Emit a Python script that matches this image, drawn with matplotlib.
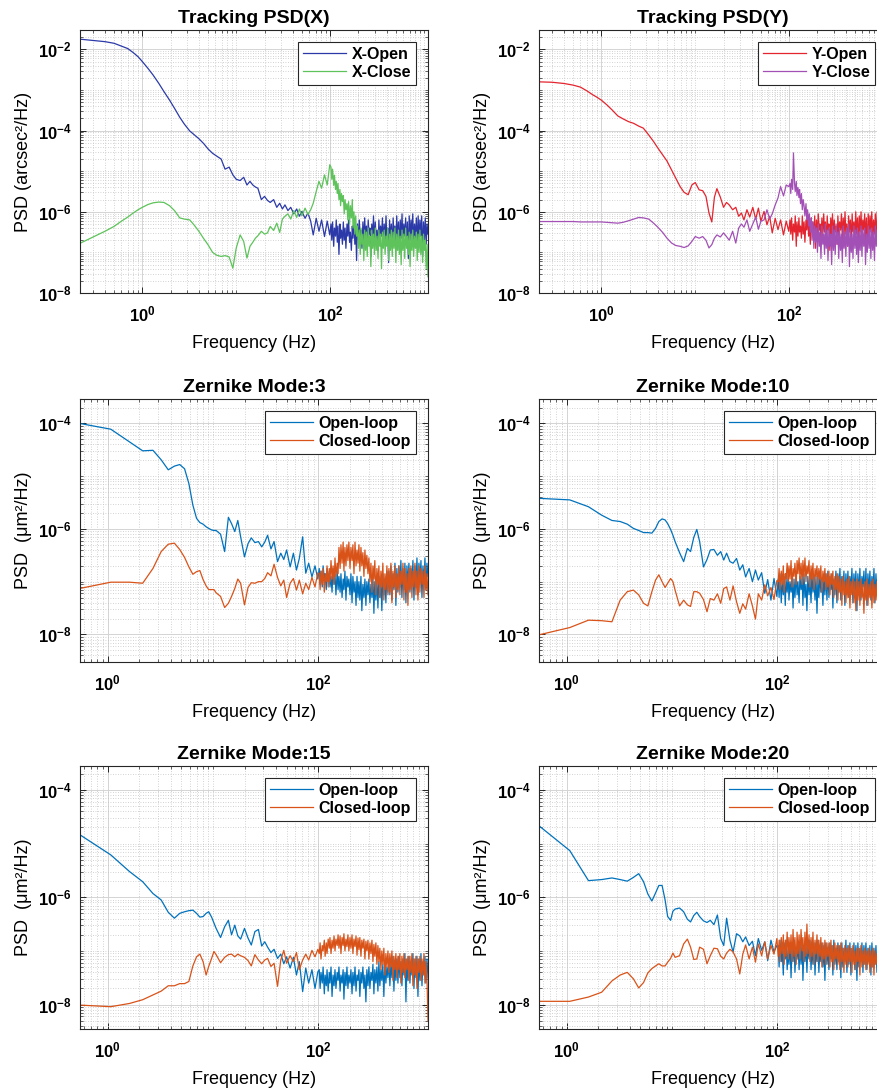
import numpy as np
import matplotlib
matplotlib.use("Agg")
import matplotlib.pyplot as plt
from matplotlib.ticker import LogLocator, NullFormatter

plt.rcParams['font.family'] = ['Liberation Sans', 'DejaVu Sans']
plt.rcParams['mathtext.fontset'] = 'custom'
plt.rcParams['mathtext.rm'] = 'Liberation Sans:bold'
plt.rcParams['mathtext.it'] = 'Liberation Sans:bold'
plt.rcParams['mathtext.bf'] = 'Liberation Sans:bold'
plt.rcParams['mathtext.sf'] = 'Liberation Sans:bold'

# ---------------- data (PSD stored as log10 exponent) ----------------
freq_high = [102, 104, 106, 109, 111, 114, 116, 119, 121, 124,
             127, 129, 132, 135, 138, 141, 144, 147, 151, 154,
             157, 161, 164, 168, 172, 175, 179, 183, 187, 191,
             195, 200, 204, 209, 213, 218, 223, 228, 233, 238,
             243, 248, 254, 259, 265, 271, 277, 283, 289, 296,
             302, 309, 316, 323, 330, 337, 344, 352, 360, 368,
             376, 384, 393, 401, 410, 419, 429, 438, 448, 458,
             468, 478, 489, 500, 511, 522, 534, 545, 557, 570,
             582, 595, 608, 622, 636, 650, 664, 679, 694, 709,
             725, 741, 757, 774, 791, 809, 827, 845, 864, 883,
             902, 922, 943, 964, 985, 1007, 1029, 1052, 1075, 1100]

freq_track = [0.22, 0.3, 0.4, 0.5, 0.6, 0.7, 0.8, 0.9, 1.0, 1.15,
              1.3, 1.5, 1.7, 1.95, 2.2, 2.5, 2.8, 3.2, 3.6, 4.0,
              4.5, 5.0, 5.6, 6.2, 6.9, 7.6, 8.4, 9.2, 10, 11,
              12, 13, 14, 15, 16, 17, 18.5, 20, 21.5, 23,
              25, 27, 29, 31, 33, 35.5, 38, 41, 44, 47,
              50, 54, 58, 62, 66, 71, 76, 81, 87, 93,
              99] + freq_high

freq_zern = [0.54, 1.07, 1.61, 2.15, 2.69, 3.22, 3.76, 4.3, 4.83, 5.37,
             5.9, 6.44, 6.98, 7.5, 8.05, 8.6, 9.1, 9.7, 10.2, 10.7,
             11.8, 12.9, 14, 15, 16.1, 17.2, 18.3, 19.9, 21.5, 23.1,
             25, 27, 29, 31, 33, 35.5, 38, 41, 44, 47,
             50, 54, 58, 62, 66, 71, 76, 81, 87, 93,
             99] + freq_high

x_open_exp = [-1.75, -1.78, -1.81, -1.85, -1.92, -1.98, -2.08, -2.18, -2.30, -2.47,
              -2.63, -2.84, -3.04, -3.25, -3.45, -3.67, -3.84, -4.01, -4.11, -4.20,
              -4.32, -4.45, -4.56, -4.63, -4.70, -4.95, -4.90, -5.09, -5.20, -5.23,
              -5.15, -5.34, -5.25, -5.34, -5.39, -5.42, -5.70, -5.62, -5.72, -5.77,
              -5.70, -5.89, -5.79, -5.93, -5.83, -5.97, -5.89, -6.05, -5.93, -6.11,
              -5.99, -6.16, -6.03, -6.23, -6.57, -6.16, -6.48, -6.20, -6.61, -6.23,
              -6.57,
              -6.30, -6.70, -6.25, -6.85, -6.40, -6.60, -6.20, -6.75, -6.35, -7.05,
              -6.30, -6.65, -6.45, -6.80, -6.25, -6.70, -6.40, -6.90, -6.30, -6.60,
              -6.20, -6.75, -6.50, -6.95, -6.35, -6.65, -6.15, -6.80, -6.40, -7.20,
              -6.30, -6.70, -6.20, -6.60, -6.45, -6.90, -6.25, -6.75, -6.15, -6.65,
              -6.35, -6.85, -6.20, -6.55, -6.40, -7.10, -6.30, -6.70, -6.10, -6.80,
              -6.25, -6.65, -6.45, -6.95, -6.20, -6.70, -6.35, -6.60, -6.15, -6.85,
              -6.30, -6.75, -6.10, -6.65, -6.40, -7.25, -6.20, -6.70, -6.30, -6.90,
              -6.15, -6.60, -6.35, -6.80, -6.10, -6.70, -6.25, -6.95, -6.20, -6.65,
              -6.05, -6.75, -6.30, -6.60, -6.15, -6.85, -6.25, -7.15, -6.10, -6.70,
              -6.20, -6.60, -6.05, -6.80, -6.30, -6.65, -6.15, -6.90, -6.10, -6.75,
              -6.20, -6.60, -6.10, -7.10, -6.25, -6.70, -6.15, -6.80, -6.30, -6.55]

x_close_exp = [-6.77, -6.62, -6.48, -6.36, -6.23, -6.13, -6.03, -5.95, -5.89, -5.82,
               -5.78, -5.76, -5.77, -5.85, -5.97, -6.15, -6.18, -6.20, -6.34, -6.48,
               -6.66, -6.81, -7.00, -7.07, -7.10, -7.08, -7.11, -7.39, -6.89, -6.57,
               -6.73, -7.14, -6.85, -6.75, -6.65, -6.59, -6.48, -6.55, -6.52, -6.36,
               -6.46, -6.28, -6.51, -6.18, -6.11, -6.05, -6.18, -5.97, -6.14, -5.93,
               -6.10, -5.91, -6.07, -5.95, -5.79, -5.50, -5.25, -5.42, -5.09, -5.34,
               -4.84,
               -4.90, -5.20, -4.95, -5.35, -5.10, -5.45, -5.25, -5.55, -5.30, -5.70,
               -5.45, -5.85, -5.55, -5.75, -5.60, -6.05, -5.70, -5.95, -5.80, -6.20,
               -5.75, -6.30, -5.85, -6.15, -5.70, -6.40, -6.00, -6.55, -6.10, -6.60,
               -6.35, -6.90, -6.45, -7.05, -6.40, -6.80, -6.55, -7.20, -6.45, -6.95,
               -6.50, -7.10, -6.40, -6.85, -6.60, -7.35, -6.45, -6.90, -6.55, -7.05,
               -6.40, -6.95, -6.60, -7.15, -6.45, -6.85, -6.55, -7.40, -6.50, -6.90,
               -6.45, -7.05, -6.60, -6.85, -6.40, -7.20, -6.55, -6.95, -6.45, -7.10,
               -6.50, -6.90, -6.40, -7.25, -6.55, -6.95, -6.45, -7.05, -6.60, -7.30,
               -6.45, -6.95, -6.55, -7.15, -6.40, -6.90, -6.60, -7.05, -6.50, -7.35,
               -6.55, -6.95, -6.45, -7.10, -6.60, -6.90, -6.50, -7.20, -6.55, -7.00,
               -6.45, -7.05, -6.60, -7.25, -6.55, -6.95, -6.70, -7.40, -6.80, -7.60]

y_open_exp = [-2.80, -2.81, -2.84, -2.88, -2.93, -3.02, -3.11, -3.18, -3.25, -3.37,
              -3.49, -3.64, -3.71, -3.78, -3.82, -3.89, -3.94, -4.11, -4.27, -4.43,
              -4.60, -4.75, -4.97, -5.17, -5.38, -5.52, -5.58, -5.34, -5.28, -5.46,
              -5.48, -5.62, -6.03, -6.25, -5.64, -5.43, -5.64, -5.89, -5.77, -5.83,
              -5.95, -5.89, -6.11, -6.03, -6.20, -5.95, -6.13, -5.89, -6.18, -5.91,
              -6.23, -5.99, -6.32, -6.11, -6.52, -6.16, -6.44, -6.20, -6.57, -6.23,
              -6.48,
              -6.20, -6.55, -6.15, -6.70, -6.30, -6.50, -6.10, -6.85, -6.25, -6.60,
              -6.15, -6.50, -6.35, -6.65, -6.10, -6.55, -6.25, -6.75, -6.20, -6.45,
              -6.05, -6.60, -6.30, -6.80, -6.15, -6.50, -6.25, -6.65, -6.10, -6.90,
              -6.20, -6.55, -6.05, -6.45, -6.30, -6.70, -6.15, -6.60, -6.05, -6.50,
              -6.25, -6.75, -6.10, -6.45, -6.30, -6.95, -6.15, -6.55, -6.05, -6.65,
              -6.20, -6.50, -6.35, -6.80, -6.10, -6.60, -6.25, -6.45, -6.05, -6.70,
              -6.15, -6.60, -6.00, -6.55, -6.30, -6.85, -6.10, -6.50, -6.20, -6.75,
              -6.05, -6.50, -6.25, -6.65, -6.00, -6.55, -6.15, -6.80, -6.10, -6.50,
              -6.00, -6.60, -6.20, -6.45, -6.05, -6.70, -6.15, -6.95, -6.05, -6.55,
              -6.10, -6.50, -6.00, -6.65, -6.20, -6.55, -6.05, -6.75, -6.00, -6.60,
              -6.10, -6.45, -6.05, -6.85, -6.15, -6.55, -6.05, -6.65, -6.20, -6.45]

y_close_exp = [-6.24, -6.24, -6.24, -6.24, -6.25, -6.25, -6.25, -6.25, -6.25, -6.26,
               -6.27, -6.28, -6.26, -6.22, -6.18, -6.14, -6.15, -6.18, -6.28, -6.38,
               -6.51, -6.65, -6.77, -6.83, -6.85, -6.88, -6.84, -6.73, -6.61, -6.65,
               -6.61, -6.70, -6.89, -6.81, -6.65, -6.57, -6.62, -6.52, -6.61, -6.70,
               -6.48, -6.77, -6.40, -6.30, -6.38, -6.20, -6.48, -6.30, -6.13, -6.43,
               -6.23, -6.20, -5.95, -6.18, -6.05, -5.83, -5.66, -5.38, -5.61, -5.34,
               -5.38,
               -5.30, -5.55, -5.20, -5.45, -4.55, -5.30, -5.50, -5.25, -5.60, -5.40,
               -5.65, -5.45, -5.80, -5.55, -5.95, -5.70, -5.85, -6.10, -5.80, -6.20,
               -5.95, -6.35, -6.05, -6.50, -6.15, -6.70, -6.25, -6.90, -6.35, -6.75,
               -6.40, -7.00, -6.30, -6.85, -6.50, -7.15, -6.35, -6.80, -6.55, -7.05,
               -6.30, -6.90, -6.45, -7.20, -6.40, -6.85, -6.55, -7.30, -6.35, -6.95,
               -6.45, -7.05, -6.30, -6.80, -6.50, -7.15, -6.40, -6.95, -6.55, -7.25,
               -6.35, -6.90, -6.50, -7.10, -6.40, -6.85, -6.30, -7.35, -6.45, -7.00,
               -6.55, -7.15, -6.35, -6.90, -6.45, -7.05, -6.40, -7.25, -6.50, -6.95,
               -6.35, -7.10, -6.45, -6.85, -6.40, -7.30, -6.55, -7.00, -6.35, -6.90,
               -6.45, -7.15, -6.40, -6.95, -6.50, -7.20, -6.35, -6.85, -6.45, -7.10,
               -6.40, -6.95, -6.50, -7.25, -6.45, -7.00, -6.40, -6.90, -6.50, -6.85]

z3_open_exp = [-4.00, -4.11, -4.35, -4.52, -4.51, -4.69, -4.88, -4.81, -4.78, -4.86,
               -5.14, -5.55, -5.80, -5.88, -5.91, -5.96, -5.99, -6.02, -6.03, -6.03,
               -6.10, -6.43, -5.78, -5.90, -6.05, -5.84, -6.15, -6.53, -6.28, -6.17,
               -6.26, -6.24, -6.34, -6.25, -6.12, -6.38, -6.24, -6.62, -6.46, -6.58,
               -6.40, -6.72, -6.46, -6.78, -6.56, -6.15, -6.84, -6.65, -6.91, -6.70,
               -6.95,
               -6.75, -7.05, -6.80, -7.10, -6.70, -6.95, -6.85, -7.15, -6.75, -7.00,
               -6.80, -7.10, -6.90, -7.20, -6.75, -7.05, -6.85, -7.25, -6.80, -7.15,
               -6.90, -7.20, -6.85, -7.30, -6.95, -7.15, -6.80, -7.35, -6.90, -7.10,
               -6.95, -7.25, -6.85, -7.40, -6.90, -7.20, -7.00, -7.45, -6.90, -7.30,
               -7.00, -7.35, -6.90, -7.55, -7.05, -7.30, -6.95, -7.45, -7.00, -7.25,
               -6.95, -7.40, -7.05, -7.30, -6.90, -7.60, -7.00, -7.35, -6.95, -7.50,
               -6.90, -7.30, -7.00, -7.55, -6.85, -7.25, -6.95, -7.40, -6.80, -7.20,
               -6.80, -7.25, -6.70, -7.35, -6.85, -7.15, -6.65, -7.45, -6.75, -7.20,
               -6.70, -7.10, -6.60, -7.30, -6.75, -7.15, -6.65, -7.40, -6.70, -7.05,
               -6.65, -7.20, -6.75, -7.05, -6.60, -7.35, -6.70, -7.10, -6.55, -7.25,
               -6.65, -7.00, -6.60, -7.30, -6.70, -7.05, -6.55, -7.15, -6.65, -6.90]

z3_close_exp = [-7.13, -7.01, -7.01, -7.03, -6.75, -6.43, -6.29, -6.27, -6.39, -6.54,
                -6.72, -6.86, -6.81, -6.79, -6.96, -7.08, -7.15, -7.15, -7.15, -7.21,
                -7.28, -7.49, -7.41, -7.28, -7.13, -6.95, -7.03, -7.44, -7.11, -7.02,
                -7.03, -7.00, -7.00, -6.94, -6.83, -6.89, -6.67, -6.92, -7.08, -6.97,
                -7.30, -7.03, -6.94, -7.16, -6.97, -7.23, -7.03, -7.15, -6.92, -7.10,
                -6.83,
                -6.85, -7.15, -6.80, -7.05, -6.75, -7.20, -6.85, -7.00, -6.70, -7.10,
                -6.75, -7.00, -6.60, -6.95, -6.70, -7.05, -6.55, -6.90, -6.65, -6.85,
                -6.35, -6.75, -6.30, -6.65, -6.25, -6.80, -6.35, -6.70, -6.30, -6.60,
                -6.25, -6.75, -6.35, -6.60, -6.30, -6.85, -6.25, -6.70, -6.40, -6.65,
                -6.30, -6.80, -6.35, -6.70, -6.45, -6.90, -6.40, -6.75, -6.50, -6.85,
                -6.55, -7.00, -6.65, -7.20, -6.70, -6.95, -6.60, -7.25, -6.75, -7.05,
                -6.70, -7.30, -6.80, -7.10, -6.65, -7.35, -6.85, -7.15, -6.70, -7.25,
                -6.75, -7.20, -6.65, -7.40, -6.80, -7.10, -6.70, -7.30, -6.85, -7.15,
                -6.70, -7.25, -6.80, -7.05, -6.65, -7.35, -6.75, -7.20, -6.85, -7.45,
                -6.75, -7.15, -6.70, -7.30, -6.80, -7.10, -6.65, -7.25, -6.80, -7.35,
                -6.70, -7.20, -6.75, -7.05, -6.80, -7.30, -6.70, -7.15, -6.85, -7.25]

z10_open_exp = [-5.42, -5.45, -5.58, -5.74, -5.84, -5.86, -5.91, -5.99, -6.03, -6.07,
                -6.07, -6.08, -5.99, -5.86, -5.81, -5.83, -5.90, -6.01, -6.12, -6.24,
                -6.45, -6.62, -6.37, -6.43, -6.16, -6.01, -6.24, -6.72, -6.58, -6.40,
                -6.39, -6.50, -6.43, -6.59, -6.46, -6.62, -6.65, -6.56, -6.78, -6.68,
                -6.91, -6.75, -7.00, -6.78, -6.97, -6.83, -7.22, -6.96, -7.35, -6.94,
                -7.28,
                -6.95, -7.30, -6.85, -7.40, -7.00, -7.25, -6.90, -7.45, -6.95, -7.20,
                -6.85, -7.35, -7.00, -7.20, -6.90, -7.50, -6.95, -7.30, -6.85, -7.25,
                -7.00, -7.40, -6.90, -7.15, -6.95, -7.45, -6.85, -7.30, -7.05, -7.55,
                -6.90, -7.25, -6.95, -7.40, -6.85, -7.20, -7.00, -7.35, -6.90, -7.60,
                -6.95, -7.30, -6.85, -7.20, -7.00, -7.45, -6.90, -7.25, -6.85, -7.35,
                -6.80, -7.30, -6.90, -7.15, -6.85, -7.50, -6.95, -7.25, -6.80, -7.40,
                -6.85, -7.20, -6.75, -7.35, -6.90, -7.15, -6.80, -7.45, -6.85, -7.25,
                -6.80, -7.30, -6.90, -7.15, -6.75, -7.40, -6.85, -7.20, -6.80, -7.55,
                -6.85, -7.25, -6.75, -7.35, -6.90, -7.10, -6.80, -7.30, -6.75, -7.45,
                -6.85, -7.20, -6.80, -7.35, -6.90, -7.15, -6.75, -7.40, -6.85, -7.25,
                -6.80, -7.30, -6.90, -7.15, -6.85, -7.35, -6.80, -7.20, -6.90, -7.10]

z10_close_exp = [-8.01, -7.87, -7.73, -7.74, -7.76, -7.35, -7.19, -7.16, -7.25, -7.41,
                 -7.46, -7.19, -6.97, -6.87, -7.00, -7.11, -7.03, -6.94, -7.00, -7.16,
                 -7.46, -7.35, -7.44, -7.47, -7.19, -7.19, -7.22, -7.34, -7.57, -7.32,
                 -7.35, -7.23, -7.41, -7.13, -7.10, -7.35, -7.08, -7.38, -7.60, -7.42,
                 -7.52, -7.23, -7.46, -7.71, -7.23, -7.35, -7.06, -7.27, -7.11, -7.34,
                 -6.98,
                 -7.00, -6.75, -7.15, -6.80, -7.05, -6.70, -7.20, -6.85, -6.95, -6.65,
                 -7.00, -6.70, -6.95, -6.60, -7.10, -6.75, -6.90, -6.65, -7.05, -6.60,
                 -6.85, -6.55, -6.95, -6.65, -7.05, -6.60, -6.90, -6.55, -7.00, -6.70,
                 -6.85, -6.60, -7.10, -6.70, -6.95, -6.65, -7.15, -6.75, -6.90, -6.70,
                 -7.05, -6.75, -6.95, -6.70, -7.20, -6.80, -7.00, -6.75, -7.15, -6.85,
                 -7.10, -6.80, -7.25, -6.85, -7.05, -6.80, -7.30, -6.90, -7.15, -6.85,
                 -7.35, -6.90, -7.20, -6.95, -7.45, -6.90, -7.25, -7.00, -7.40, -6.95,
                 -7.30, -6.90, -7.50, -7.00, -7.25, -6.95, -7.40, -7.00, -7.55, -6.95,
                 -7.35, -7.00, -7.45, -6.95, -7.30, -7.05, -7.60, -7.00, -7.35, -6.95,
                 -7.45, -7.05, -7.30, -7.00, -7.50, -6.95, -7.40, -7.05, -7.35, -7.00,
                 -7.50, -7.05, -7.35, -7.00, -7.45, -7.10, -7.30, -7.05, -7.40, -7.10]

z15_open_exp = [-4.83, -5.21, -5.52, -5.71, -5.93, -6.05, -6.28, -6.39, -6.30, -6.27,
                -6.25, -6.24, -6.30, -6.37, -6.36, -6.30, -6.27, -6.37, -6.48, -6.58,
                -6.75, -6.55, -6.43, -6.70, -6.52, -6.72, -6.78, -6.58, -6.76, -6.89,
                -6.64, -6.60, -6.91, -6.83, -6.93, -7.03, -6.97, -7.14, -7.06, -7.24,
                -7.11, -7.32, -7.12, -7.45, -7.20, -7.76, -7.32, -7.60, -7.35, -7.70,
                -7.39,
                -7.35, -7.70, -7.40, -7.60, -7.30, -7.80, -7.45, -7.65, -7.35, -7.75,
                -7.40, -7.60, -7.30, -7.85, -7.45, -7.65, -7.35, -7.70, -7.40, -7.55,
                -7.30, -7.75, -7.45, -7.60, -7.35, -7.90, -7.40, -7.65, -7.30, -7.70,
                -7.45, -7.60, -7.35, -7.80, -7.40, -7.65, -7.30, -7.75, -7.45, -7.55,
                -7.35, -7.85, -7.40, -7.60, -7.30, -7.70, -7.45, -7.95, -7.35, -7.65,
                -7.30, -7.70, -7.40, -7.55, -7.25, -7.80, -7.35, -7.60, -7.30, -7.75,
                -7.20, -7.65, -7.35, -7.55, -7.25, -7.85, -7.20, -7.60, -7.30, -7.50,
                -7.15, -7.65, -7.25, -7.50, -7.10, -7.75, -7.20, -7.55, -7.15, -7.60,
                -7.10, -7.50, -7.20, -7.65, -7.15, -7.45, -7.05, -7.95, -7.15, -7.55,
                -7.10, -7.60, -7.20, -7.45, -7.05, -7.70, -7.15, -7.50, -7.10, -7.85,
                -7.15, -7.55, -7.05, -7.65, -7.20, -7.45, -7.10, -7.60, -7.15, -7.50]

z15_close_exp = [-8.01, -8.04, -7.98, -7.91, -7.82, -7.75, -7.65, -7.65, -7.61, -7.61,
                 -7.57, -7.28, -7.11, -7.06, -7.20, -7.45, -7.29, -7.14, -7.01, -7.07,
                 -7.22, -7.12, -7.07, -7.06, -7.11, -7.06, -7.09, -7.12, -7.18, -7.28,
                 -7.07, -7.17, -7.24, -7.17, -7.14, -7.29, -7.23, -7.66, -7.17, -6.99,
                 -7.23, -7.09, -7.20, -7.03, -7.35, -7.17, -7.06, -7.17, -6.99, -7.11,
                 -6.97,
                 -7.05, -6.85, -7.15, -6.90, -7.00, -6.80, -7.10, -6.85, -7.05, -6.78,
                 -6.95, -6.75, -7.05, -6.80, -6.95, -6.72, -7.00, -6.78, -6.90, -6.70,
                 -6.95, -6.72, -7.05, -6.75, -6.90, -6.68, -7.00, -6.78, -6.92, -6.70,
                 -7.00, -6.75, -6.95, -6.70, -7.05, -6.78, -6.92, -6.72, -7.08, -6.76,
                 -6.98, -6.75, -7.10, -6.80, -6.95, -6.78, -7.15, -6.82, -7.00, -6.80,
                 -7.15, -6.85, -7.05, -6.80, -7.20, -6.88, -7.10, -6.85, -7.25, -6.90,
                 -7.20, -6.95, -7.35, -7.00, -7.25, -6.95, -7.45, -7.05, -7.30, -7.00,
                 -7.40, -7.05, -7.30, -7.00, -7.55, -7.10, -7.35, -7.05, -7.50, -7.10,
                 -7.35, -7.05, -7.60, -7.10, -7.40, -7.05, -7.50, -7.15, -7.35, -7.10,
                 -7.55, -7.10, -7.40, -7.05, -7.65, -7.15, -7.45, -7.10, -7.70, -7.15,
                 -7.40, -7.10, -7.55, -7.15, -7.45, -7.05, -7.60, -7.20, -7.50, -8.30]

z20_open_exp = [-4.66, -5.13, -5.69, -5.67, -5.64, -5.67, -5.70, -5.63, -5.56, -5.71,
                -5.94, -6.07, -5.92, -5.78, -5.78, -6.05, -6.36, -6.43, -6.26, -6.22,
                -6.20, -6.27, -6.41, -6.46, -6.34, -6.28, -6.36, -6.44, -6.47, -6.43,
                -6.51, -6.33, -6.77, -6.90, -6.39, -6.80, -7.02, -6.68, -6.72, -6.83,
                -6.74, -6.90, -6.82, -7.09, -6.77, -6.99, -6.83, -7.18, -6.80, -7.02,
                -6.90,
                -6.90, -7.30, -6.80, -7.20, -6.95, -7.45, -6.85, -7.15, -6.80, -7.35,
                -6.95, -7.25, -6.85, -7.50, -6.90, -7.20, -6.80, -7.40, -6.95, -7.15,
                -6.85, -7.35, -6.90, -7.25, -6.80, -7.55, -6.95, -7.20, -6.85, -7.40,
                -6.90, -7.15, -6.80, -7.35, -6.95, -7.25, -6.85, -7.45, -6.90, -7.20,
                -6.80, -7.40, -6.95, -7.20, -6.85, -7.30, -6.90, -7.55, -6.85, -7.25,
                -6.95, -7.35, -6.85, -7.15, -6.90, -7.45, -6.80, -7.25, -6.95, -7.35,
                -6.85, -7.20, -6.90, -7.50, -6.85, -7.30, -6.95, -7.20, -6.80, -7.40,
                -6.90, -7.25, -6.85, -7.45, -6.95, -7.20, -6.85, -7.35, -6.90, -7.55,
                -6.85, -7.30, -6.95, -7.20, -6.85, -7.40, -6.90, -7.25, -6.85, -7.35,
                -6.95, -7.20, -6.90, -7.45, -6.85, -7.30, -6.95, -7.25, -6.90, -7.40,
                -6.90, -7.25, -6.85, -7.35, -6.95, -7.20, -6.90, -7.40, -6.95, -7.15]

z20_close_exp = [-7.94, -7.94, -7.86, -7.77, -7.56, -7.45, -7.40, -7.52, -7.69, -7.59,
                 -7.41, -7.33, -7.28, -7.24, -7.28, -7.28, -7.21, -7.14, -7.04, -7.12,
                 -7.09, -6.87, -6.78, -6.93, -7.16, -7.15, -6.93, -6.97, -7.24, -7.09,
                 -6.95, -6.96, -7.10, -7.15, -7.04, -6.97, -7.02, -7.15, -7.43, -7.06,
                 -6.89, -7.15, -6.93, -7.21, -6.87, -7.09, -6.83, -7.15, -6.90, -7.06,
                 -6.77,
                 -7.10, -6.80, -7.20, -6.75, -7.05, -6.70, -7.25, -6.80, -7.10, -6.65,
                 -7.15, -6.75, -7.05, -6.70, -7.20, -6.60, -7.10, -6.75, -7.25, -6.65,
                 -7.05, -6.70, -7.15, -6.60, -7.00, -6.75, -7.20, -6.65, -7.10, -6.50,
                 -7.05, -6.70, -7.20, -6.75, -7.10, -6.65, -7.25, -6.80, -7.05, -6.70,
                 -7.20, -6.80, -7.10, -6.75, -7.30, -6.85, -7.15, -6.80, -7.25, -6.85,
                 -7.10, -6.85, -7.30, -6.80, -7.20, -6.90, -7.35, -6.85, -7.15, -6.90,
                 -7.25, -6.90, -7.35, -6.85, -7.20, -6.95, -7.40, -6.90, -7.25, -6.95,
                 -7.30, -6.90, -7.20, -6.95, -7.40, -6.90, -7.25, -7.00, -7.35, -6.95,
                 -7.20, -6.95, -7.45, -6.90, -7.30, -7.00, -7.25, -6.95, -7.35, -7.00,
                 -7.25, -6.95, -7.40, -7.00, -7.30, -6.95, -7.45, -7.00, -7.25, -7.05,
                 -7.35, -7.00, -7.25, -6.95, -7.40, -7.05, -7.30, -7.00, -7.35, -7.05]

titles = ['Tracking PSD(X)', 'Tracking PSD(Y)', 'Zernike Mode:3',
          'Zernike Mode:10', 'Zernike Mode:15', 'Zernike Mode:20']
legend_labels = [('X-Open', 'X-Close'), ('Y-Open', 'Y-Close'),
                 ('Open-loop', 'Closed-loop'), ('Open-loop', 'Closed-loop'),
                 ('Open-loop', 'Closed-loop'), ('Open-loop', 'Closed-loop')]
ylabels = ['PSD (arcsec²/Hz)', 'PSD (arcsec²/Hz)', 'PSD  (μm²/Hz)',
           'PSD  (μm²/Hz)', 'PSD  (μm²/Hz)', 'PSD  (μm²/Hz)']
xlabel = 'Frequency (Hz)'
xtick_vals = [1, 100]
xtick_labels = [r'$10^{0}$', r'$10^{2}$']
ytick_track = [1e-8, 1e-6, 1e-4, 1e-2]
ytick_track_labels = [r'$10^{-8}$', r'$10^{-6}$', r'$10^{-4}$', r'$10^{-2}$']
ytick_zern = [1e-8, 1e-6, 1e-4]
ytick_zern_labels = [r'$10^{-8}$', r'$10^{-6}$', r'$10^{-4}$']

# ---------------- styling ----------------
c_xopen, c_xclose = '#2B3AA8', '#5DC35A'
c_yopen, c_yclose = '#E4242E', '#A250B6'
c_open, c_close = '#0072BD', '#D95319'

W, H = 878, 1090
fig = plt.figure(figsize=(W / 100, H / 100), dpi=100)

def rect(left_px, top_px, w_px=348, h_px=263):
    return [left_px / W, 1 - (top_px + h_px) / H, w_px / W, h_px / H]

col_x = [80, 539]
row_top = [30, 399, 766]

panels = [
    (freq_track, x_open_exp, x_close_exp, c_xopen, c_xclose, (0.217, 1100), (1e-8, 3e-2), ytick_track, ytick_track_labels),
    (freq_track, y_open_exp, y_close_exp, c_yopen, c_yclose, (0.217, 1100), (1e-8, 3e-2), ytick_track, ytick_track_labels),
    (freq_zern, z3_open_exp, z3_close_exp, c_open, c_close, (0.546, 1100), (3e-9, 2.9e-4), ytick_zern, ytick_zern_labels),
    (freq_zern, z10_open_exp, z10_close_exp, c_open, c_close, (0.546, 1100), (3e-9, 2.9e-4), ytick_zern, ytick_zern_labels),
    (freq_zern, z15_open_exp, z15_close_exp, c_open, c_close, (0.546, 1100), (3.5e-9, 2.8e-4), ytick_zern, ytick_zern_labels),
    (freq_zern, z20_open_exp, z20_close_exp, c_open, c_close, (0.546, 1100), (3.5e-9, 2.8e-4), ytick_zern, ytick_zern_labels),
]

for i, (freq, oexp, cexp, co, cc, xlim, ylim, yt, ytl) in enumerate(panels):
    assert len(freq) == len(oexp) == len(cexp), (i, len(freq), len(oexp), len(cexp))
    r, c = divmod(i, 2)
    ax = fig.add_axes(rect(col_x[c], row_top[r]))
    f = np.array(freq, dtype=float)
    ax.plot(f, 10.0 ** np.array(oexp), color=co, lw=0.9, label=legend_labels[i][0])
    ax.plot(f, 10.0 ** np.array(cexp), color=cc, lw=0.9, label=legend_labels[i][1])
    ax.set_xscale('log')
    ax.set_yscale('log')
    ax.set_xlim(*xlim)
    ax.set_ylim(*ylim)
    ax.set_xticks(xtick_vals)
    ax.set_xticklabels(xtick_labels)
    ax.set_yticks(yt)
    ax.set_yticklabels(ytl)
    ax.xaxis.set_minor_locator(LogLocator(base=10, subs=np.arange(1, 10) * 1.0, numticks=60))
    ax.yaxis.set_minor_locator(LogLocator(base=10, subs=np.arange(1, 10) * 1.0, numticks=60))
    ax.xaxis.set_minor_formatter(NullFormatter())
    ax.yaxis.set_minor_formatter(NullFormatter())
    ax.grid(which='major', color='#d4d4d4', lw=0.7, ls='-')
    ax.grid(which='minor', color='#c4c4c4', lw=0.6, ls=(0, (1, 2)))
    ax.set_axisbelow(True)
    ax.tick_params(which='both', direction='in', top=True, right=True, color='#262626')
    ax.tick_params(which='major', length=4, width=0.7, labelsize=12)
    ax.tick_params(axis='x', which='major', pad=8)
    ax.tick_params(axis='y', which='major', pad=6)
    ax.tick_params(which='minor', length=2, width=0.5)
    for s in ax.spines.values():
        s.set_color('#262626')
        s.set_linewidth(0.8)
    ax.set_title(titles[i], fontsize=14, fontweight='bold', pad=5)
    ax.set_xlabel(xlabel, fontsize=13, labelpad=8)
    ax.set_ylabel(ylabels[i], fontsize=13, labelpad=4)
    leg = ax.legend(loc='upper right', prop={'weight': 'bold', 'size': 11.5},
                    fancybox=False, framealpha=1, edgecolor='#262626',
                    borderpad=0.3, handlelength=2.7, handletextpad=0.35,
                    labelspacing=0.2, borderaxespad=0.75)
    leg.get_frame().set_linewidth(0.8)

fig.savefig('out.png', dpi=100)
